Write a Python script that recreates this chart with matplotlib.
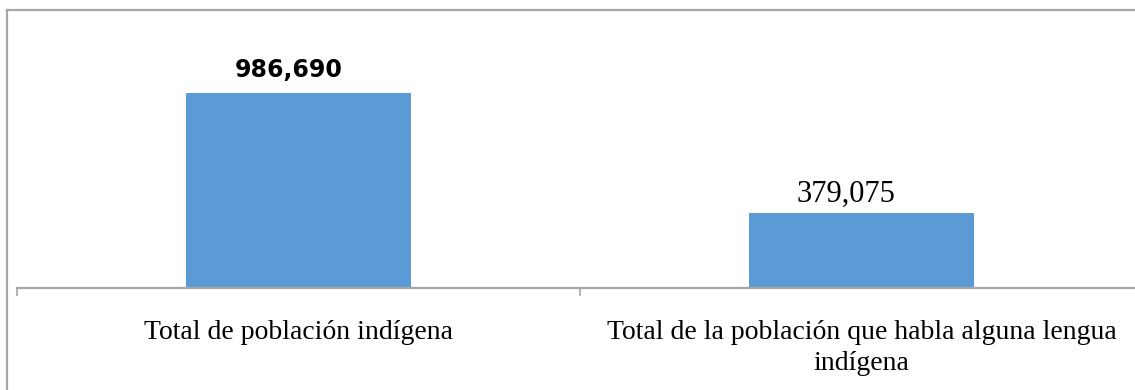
import matplotlib.pyplot as plt
from matplotlib.lines import Line2D

# data
categories = ["Total de población indígena",
              "Total de la población que habla alguna lengua\nindígena"]
values = [986690, 379075]
value_labels = ["986,690", "379,075"]

fig = plt.figure(figsize=(11.35, 3.9), dpi=100)
W, H = 1135.0, 390.0

# outer chart frame (cut by the image edges on right and bottom)
fig.add_artist(Line2D([7 / W, 7 / W], [0, 1 - 10 / H], transform=fig.transFigure,
                      color="#a6a6a6", lw=1.6))
fig.add_artist(Line2D([7 / W, 1.0], [1 - 10 / H, 1 - 10 / H], transform=fig.transFigure,
                      color="#a6a6a6", lw=1.6))

ax = fig.add_axes([17 / W, 102 / H, 1126 / W, 237 / H])
x = list(range(len(categories)))
bars = ax.bar(x, values, width=0.4, color="#5b9bd5")
ax.set_xlim(-0.5, 1.5)
ax.set_ylim(0, 1200000)

for sp in ["top", "right", "left"]:
    ax.spines[sp].set_visible(False)
ax.spines["bottom"].set_color("#a6a6a6")
ax.spines["bottom"].set_linewidth(1.6)
ax.set_yticks([])

# boundary ticks, labels in the middle
ax.set_xticks([-0.5, 0.5, 1.5])
ax.set_xticklabels([])
ax.tick_params(axis="x", which="major", direction="out", length=6, width=1.2, color="#a6a6a6")
ax.set_xticks(x, minor=True)
ax.set_xticklabels(categories, minor=True, fontfamily="Liberation Serif",
                   fontsize=20, linespacing=1.3)
ax.tick_params(axis="x", which="minor", length=0, pad=23)

# value labels (slightly left of the bar centres, as in the original)
ax.annotate(value_labels[0], (x[0], values[0]), xytext=(-7, 8), textcoords="offset points",
            ha="center", va="bottom", fontsize=17, fontweight="bold",
            fontfamily="DejaVu Sans")
ax.annotate(value_labels[1], (x[1], values[1]), xytext=(-11, 3), textcoords="offset points",
            ha="center", va="bottom", fontsize=22, fontfamily="Liberation Serif")

fig.savefig("out.png", dpi=100)
